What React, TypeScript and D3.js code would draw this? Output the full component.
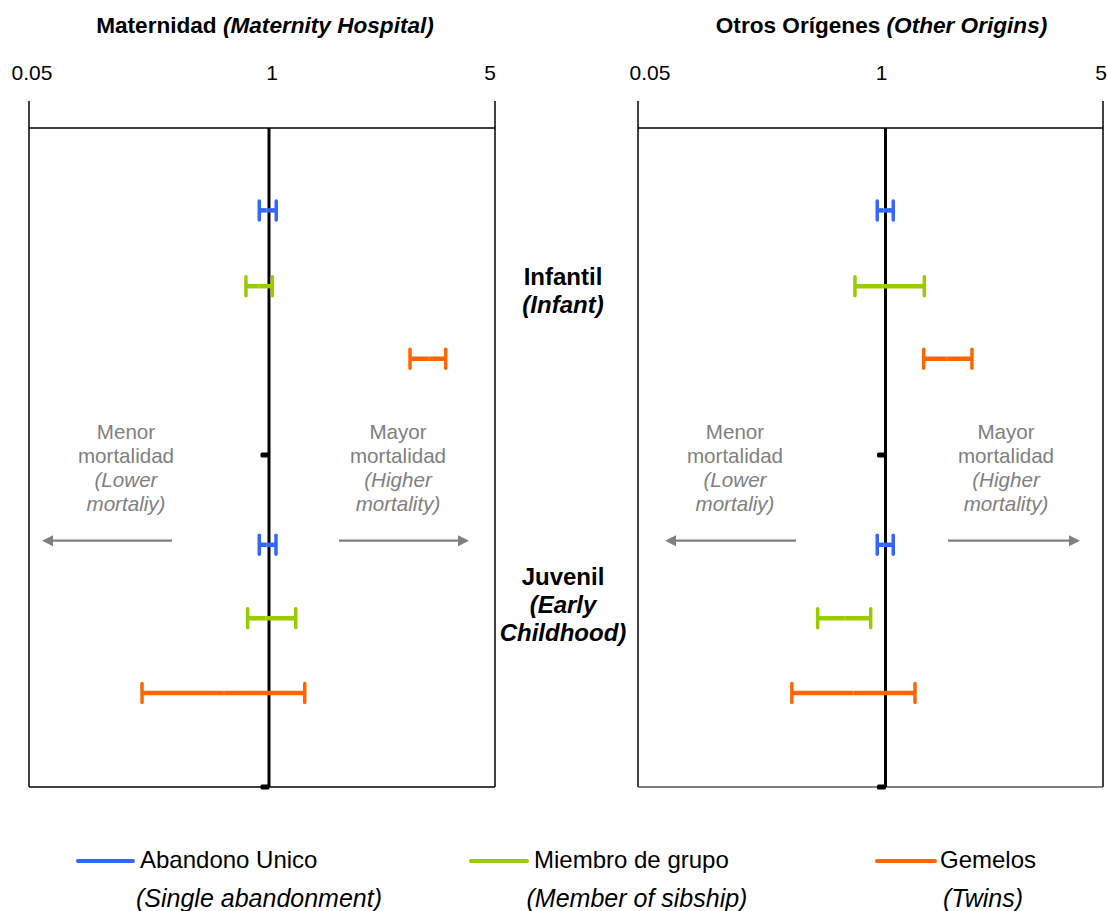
import React from "react";
import * as d3 from "d3";

// ---------- Data ----------
const panelTitlesEs = ["Maternidad", "Otros Orígenes"];
const panelTitlesEn = ["(Maternity Hospital)", "(Other Origins)"];
const tickValues = [0.05, 1, 5];
const tickLabels = ["0.05", "1", "5"];
const seriesNames = ["Abandono Unico", "Miembro de grupo", "Gemelos"];
const seriesNamesEn = ["(Single abandonment)", "(Member of sibship)", "(Twins)"];
const seriesColors = ["#3366FF", "#99CC00", "#FF6600"];
const ageGroupsEs = ["Infantil", "Juvenil"];
const ageGroupsEn = [["(Infant)"], ["(Early", "Childhood)"]];
// row positions on the vertical (category) axis, units 0..8
const rowPositions = [
  [1.0, 1.92, 2.8],
  [5.06, 5.95, 6.86],
];
const refMarkerRows = [3.97, 8];

// Maternidad: [age group][series]
const matLower = [
  [0.886, 0.75, 2.73],
  [0.886, 0.766, 0.205],
];
const matUpper = [
  [1.053, 1.024, 3.52],
  [1.051, 1.21, 1.29],
];
const matPoint = [
  [0.97, 0.88, 3.12],
  [0.97, 0.96, 0.57],
];
// Otros Orígenes
const otrLower = [
  [0.905, 0.691, 1.327],
  [0.905, 0.44, 0.322],
];
const otrUpper = [
  [1.059, 1.333, 1.896],
  [1.059, 0.836, 1.244],
];
const otrPoint = [
  [0.98, 0.96, 1.58],
  [0.98, 0.61, 0.677],
];

const lowerAll = [matLower, otrLower];
const upperAll = [matUpper, otrUpper];
const pointAll = [matPoint, otrPoint];

// ---------- Layout ----------
const W = 1107;
const H = 911;
const FONT = "Arial, 'Liberation Sans', Helvetica, sans-serif";
const GRAY = "#808080";

const panelRanges = [
  [29, 269, 495],
  [638, 885.5, 1103],
];
const tickLabelDx = [
  [3, 3, -5],
  [12, -4, -2],
];
const arrowLeft = [
  [172, 42],
  [796, 665],
];
const arrowRight = [
  [339, 469],
  [948, 1080],
];
const yTop = 128;
const yBot = 787;
const tickTop = 101;

const yScale = d3.scaleLinear().domain([0, 8]).range([yTop, yBot]);

function Arrow({ x1, x2, y }: { x1: number; x2: number; y: number }) {
  const dir = x2 > x1 ? 1 : -1;
  const head = 11;
  return (
    <g>
      <line x1={x1} x2={x2 - dir * head} y1={y} y2={y} stroke={GRAY} strokeWidth={2.2} />
      <path
        d={`M${x2},${y} L${x2 - dir * head},${y - 5.5} L${x2 - dir * head},${y + 5.5} Z`}
        fill={GRAY}
      />
    </g>
  );
}

function Panel({ idx }: { idx: number }) {
  const r = panelRanges[idx];
  const x = d3.scaleLog().domain([0.05, 1, 5]).range(r);
  const [x0, xRef, x1] = [x(0.05), x(1), x(5)];
  const lower = lowerAll[idx];
  const upper = upperAll[idx];
  const point = pointAll[idx];
  const capH = 19;
  const leftMid = x0 + 97;
  const rightMid = x1 - 97;
  const annY = yScale(3.775);
  const lh = 24;
  return (
    <g>
      {/* title */}
      <text
        x={xRef - 4}
        y={33}
        textAnchor="middle"
        fontFamily={FONT}
        fontWeight="bold"
        fontSize={22.6}
      >
        {panelTitlesEs[idx]} <tspan fontStyle="italic">{panelTitlesEn[idx]}</tspan>
      </text>
      {/* tick labels */}
      {tickValues.map((v, i) => (
        <text
          key={i}
          x={x(v) + tickLabelDx[idx][i]}
          y={80}
          textAnchor="middle"
          fontFamily={FONT}
          fontSize={21}
        >
          {tickLabels[i]}
        </text>
      ))}
      {/* frame */}
      <line x1={x0} x2={x0} y1={tickTop} y2={yBot} stroke="#000" strokeWidth={1.5} />
      <line x1={x1} x2={x1} y1={tickTop} y2={yBot} stroke="#000" strokeWidth={1.5} />
      <line x1={x0} x2={x1} y1={yTop} y2={yTop} stroke="#000" strokeWidth={1.5} />
      <line
        x1={x0}
        x2={x1}
        y1={yBot}
        y2={yBot}
        stroke={idx === 0 ? "#000" : "#555"}
        strokeWidth={1.5}
      />
      {/* annotations */}
      {[["Menor", "mortalidad"], ["Mayor", "mortalidad"]].map((lines, k) => {
        const cx = k === 0 ? leftMid : rightMid;
        const en = k === 0 ? ["(Lower", "mortaliy)"] : ["(Higher", "mortality)"];
        return (
          <g key={k} fontFamily={FONT} fontSize={20.6} fill={GRAY} textAnchor="middle">
            <text x={cx} y={annY}>{lines[0]}</text>
            <text x={cx} y={annY + lh}>{lines[1]}</text>
            <text x={cx} y={annY + 2 * lh} fontStyle="italic">{en[0]}</text>
            <text x={cx} y={annY + 3 * lh} fontStyle="italic">{en[1]}</text>
          </g>
        );
      })}
      <Arrow x1={arrowLeft[idx][0]} x2={arrowLeft[idx][1]} y={yScale(5.01)} />
      <Arrow x1={arrowRight[idx][0]} x2={arrowRight[idx][1]} y={yScale(5.01)} />
      {/* reference line */}
      <line x1={xRef} x2={xRef} y1={yTop} y2={yBot} stroke="#000" strokeWidth={3} />
      {refMarkerRows.map((rv, i) => (
        <rect key={i} x={xRef - 8.5} y={yScale(rv) - 2.5} width={9} height={5} rx={1.5} fill="#000" />
      ))}
      {/* error bars */}
      {lower.map((grp, g) =>
        grp.map((lo, s) => {
          const y = yScale(rowPositions[g][s]);
          const xl = x(lo);
          const xu = x(upper[g][s]);
          const xp = x(point[g][s]);
          const c = seriesColors[s];
          return (
            <g key={`${g}-${s}`}>
              <line x1={xl} x2={xu} y1={y} y2={y} stroke={c} strokeWidth={4.5} />
              <line x1={xl} x2={xl} y1={y - capH / 2} y2={y + capH / 2} stroke={c} strokeWidth={3.5} strokeLinecap="round" />
              <line x1={xu} x2={xu} y1={y - capH / 2} y2={y + capH / 2} stroke={c} strokeWidth={3.5} strokeLinecap="round" />
              <line x1={xp} x2={xp} y1={y - 2.5} y2={y + 2.5} stroke="#fff" strokeOpacity={0.25} strokeWidth={1} />
            </g>
          );
        })
      )}
    </g>
  );
}

export default function App() {
  const midX = 563;
  const infY = yScale(rowPositions[0][1]);
  const juvY = yScale(rowPositions[1][1]);
  const legendX = [
    [78, 133, 140, 259],
    [471, 527, 534, 637],
    [877, 935, 940, 983],
  ];
  return (
    <svg
      width={W}
      height={H}
      viewBox={`0 0 ${W} ${H}`}
      style={{ position: "absolute", left: 0, top: 0, background: "#fff" }}
    >
      <rect width={W} height={H} fill="#fff" />
      <Panel idx={0} />
      <Panel idx={1} />
      {/* age-group labels */}
      <g fontFamily={FONT} fontWeight="bold" fontSize={24} textAnchor="middle">
        <text x={midX} y={infY - 1}>{ageGroupsEs[0]}</text>
        {ageGroupsEn[0].map((t, i) => (
          <text key={i} x={midX} y={infY + 27 + i * 28} fontStyle="italic">{t}</text>
        ))}
        <text x={midX} y={juvY - 33}>{ageGroupsEs[1]}</text>
        {ageGroupsEn[1].map((t, i) => (
          <text key={i} x={midX} y={juvY - 5 + i * 28} fontStyle="italic">{t}</text>
        ))}
      </g>
      {/* legend */}
      {seriesNames.map((n, i) => (
        <g key={i} fontFamily={FONT}>
          <line
            x1={legendX[i][0]}
            x2={legendX[i][1]}
            y1={861}
            y2={861}
            stroke={seriesColors[i]}
            strokeWidth={4}
            strokeLinecap="round"
          />
          <text x={legendX[i][2]} y={868} fontSize={24}>{n}</text>
          <text x={legendX[i][3]} y={907} fontSize={25} fontStyle="italic" textAnchor="middle">
            {seriesNamesEn[i]}
          </text>
        </g>
      ))}
    </svg>
  );
}
